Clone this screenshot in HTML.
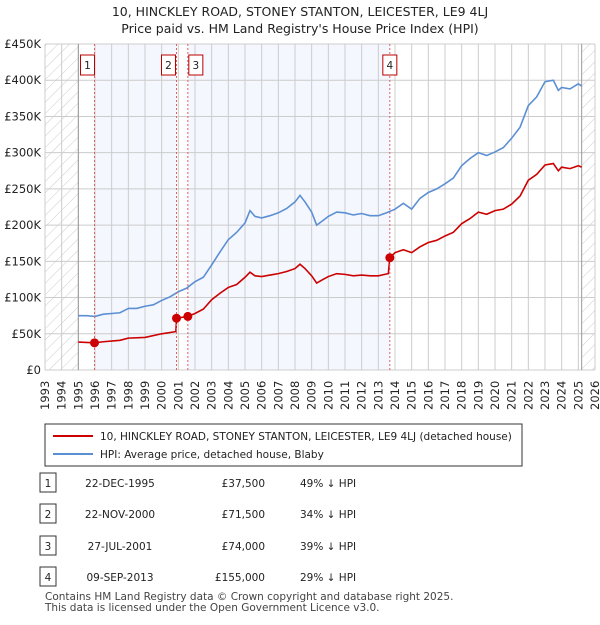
<!DOCTYPE html>
<html><head><meta charset="utf-8"><style>
body{margin:0;background:#fff;font-family:"Liberation Sans","DejaVu Sans",sans-serif;}
svg text{font-family:"DejaVu Sans","Liberation Sans",sans-serif;}
</style></head><body>
<svg width="600" height="620" xmlns="http://www.w3.org/2000/svg" id="chart">
<defs><pattern id="hatch" width="8" height="8" patternUnits="userSpaceOnUse" patternTransform="rotate(45)"><line x1="0" y1="0" x2="0" y2="8" stroke="#ccc" stroke-width="1"/></pattern></defs>
<text x="300" y="16" text-anchor="middle" font-size="12.5" fill="#222">10, HINCKLEY ROAD, STONEY STANTON, LEICESTER, LE9 4LJ</text>
<text x="300" y="33" text-anchor="middle" font-size="12.5" fill="#222">Price paid vs. HM Land Registry's House Price Index (HPI)</text>
<g id="bg"></g><g id="grid"></g><g id="lines"></g><g id="marks"></g><g id="axes"></g>
<rect x="45" y="424" width="477" height="42" fill="#fff" stroke="#333"/>
<line x1="53" y1="436" x2="93" y2="436" stroke="#cc0000" stroke-width="2"/>
<text x="100" y="440" font-size="10.5" fill="#222">10, HINCKLEY ROAD, STONEY STANTON, LEICESTER, LE9 4LJ (detached house)</text>
<line x1="53" y1="454" x2="93" y2="454" stroke="#5b8fd4" stroke-width="2"/>
<text x="100" y="458" font-size="10.5" fill="#222">HPI: Average price, detached house, Blaby</text>
<g id="table" font-size="10.5" fill="#222"></g>
<text x="45" y="600" font-size="10.5" fill="#444">Contains HM Land Registry data © Crown copyright and database right 2025.</text>
<text x="45" y="611" font-size="10.5" fill="#444">This data is licensed under the Open Government Licence v3.0.</text>
</svg>
<script>
const hpiYears=[1995,1995.5,1996,1996.5,1997,1997.5,1998,1998.5,1999,1999.5,2000,2000.5,2001,2001.5,2002,2002.5,2003,2003.5,2004,2004.5,2005,2005.3,2005.6,2006,2006.5,2007,2007.5,2008,2008.3,2008.6,2009,2009.3,2009.6,2010,2010.5,2011,2011.5,2012,2012.5,2013,2013.5,2014,2014.5,2015,2015.5,2016,2016.5,2017,2017.5,2018,2018.5,2019,2019.5,2020,2020.5,2021,2021.5,2022,2022.5,2023,2023.5,2023.8,2024,2024.5,2025,2025.2];
const hpiValues=[75,75,74,77,78,79,85,85,88,90,96,101,108,113,122,128,145,163,180,190,203,220,212,210,213,217,223,232,241,232,218,200,205,212,218,217,214,216,213,213,217,222,230,222,237,245,250,257,265,282,292,300,296,301,307,320,335,365,377,398,400,386,390,388,395,392];
const priceYears=[1995,1995.97,1996.5,1997.5,1998,1999,2000,2000.85,2000.9,2001.57,2002,2002.5,2003,2003.5,2004,2004.5,2005,2005.3,2005.6,2006,2006.5,2007,2007.5,2008,2008.3,2008.6,2009,2009.3,2009.6,2010,2010.5,2011,2011.5,2012,2012.5,2013,2013.6,2013.69,2014,2014.5,2015,2015.5,2016,2016.5,2017,2017.5,2018,2018.5,2019,2019.5,2020,2020.5,2021,2021.5,2022,2022.5,2023,2023.5,2023.8,2024,2024.5,2025,2025.2];
const priceValues=[38.5,37.5,39,41,44,45,50,53,71.5,74,78,84,97,106,114,118,128,135,130,129,131,133,136,140,146,140,130,120,124,129,133,132,130,131,130,130,133,155,162,166,162,170,176,179,185,190,202,209,218,215,220,222,229,240,262,270,283,285,275,280,278,282,280];
const saleLabels=["1","2","3","4"];
const saleDates=[1995.97,2000.89,2001.57,2013.69];
const salePrices=[37.5,71.5,74,155];
const saleDateText=["22-DEC-1995","22-NOV-2000","27-JUL-2001","09-SEP-2013"];
const salePriceText=["£37,500","£71,500","£74,000","£155,000"];
const saleHpiText=["49% ↓ HPI","34% ↓ HPI","39% ↓ HPI","29% ↓ HPI"];
const yTicks=[0,50,100,150,200,250,300,350,400,450];
const yTickLabels=["£0","£50K","£100K","£150K","£200K","£250K","£300K","£350K","£400K","£450K"];
const xStart=1993,xEnd=2026,dataStart=1995,dataEnd=2025.2;
const L=45,R=595,T=44,B=370;
const X=v=>L+(v-xStart)/(xEnd-xStart)*(R-L);
const Y=v=>B-v/450*(B-T);
const NS="http://www.w3.org/2000/svg";
function mk(tag,attrs,parent){const e=document.createElementNS(NS,tag);for(const k in attrs)e.setAttribute(k,attrs[k]);document.getElementById(parent).appendChild(e);return e;}
let e;
e=mk('rect',{x:X(saleDates[0]),y:T,width:X(saleDates[1])-X(saleDates[0]),height:B-T,fill:'#f4f7fe'},'bg');


e=mk('rect',{x:X(saleDates[2]),y:T,width:X(saleDates[3])-X(saleDates[2]),height:B-T,fill:'#f4f7fe'},'bg');


e=mk('rect',{x:L,y:T,width:X(dataStart)-L,height:B-T,fill:'url(#hatch)'},'bg');


e=mk('rect',{x:X(dataEnd),y:T,width:R-X(dataEnd),height:B-T,fill:'url(#hatch)'},'bg');


for(let yr=xStart;yr<=xEnd;yr++){
 e=mk('line',{x1:X(yr),x2:X(yr),y1:T,y2:B,stroke:'#ccc','stroke-width':1},'grid');
 
 
 e=mk('text',{x:0,y:0,transform:`translate(${X(yr)+4},${B+40}) rotate(-90)`,'font-size':11.5,fill:'#222'},'axes');
 e.textContent=yr;
 
 
}
yTicks.forEach((v,i)=>{
 e=mk('line',{x1:L,x2:R,y1:Y(v),y2:Y(v),stroke:'#ccc','stroke-width':1},'grid');
 
 
 e=mk('text',{x:L-4,y:Y(v)+4,'text-anchor':'end','font-size':11.5,fill:'#222'},'axes');
 e.textContent=yTickLabels[i];
 
 
});
e=mk('line',{x1:X(dataStart),x2:X(dataStart),y1:T,y2:B,stroke:'#999'},'grid');


e=mk('line',{x1:X(dataEnd),x2:X(dataEnd),y1:T,y2:B,stroke:'#999'},'grid');


e=mk('polyline',{points:hpiYears.map((y,i)=>X(y)+','+Y(hpiValues[i])).join(' '),fill:'none',stroke:'#5b8fd4','stroke-width':1.6},'lines');


e=mk('polyline',{points:priceYears.map((y,i)=>X(y)+','+Y(priceValues[i])).join(' '),fill:'none',stroke:'#cc0000','stroke-width':1.6},'lines');


saleDates.forEach((d,i)=>{
 e=mk('line',{x1:X(d),x2:X(d),y1:T,y2:B,stroke:'#e06060','stroke-dasharray':'2,2','stroke-width':1},'marks');
 
 
 e=mk('circle',{cx:X(d),cy:Y(salePrices[i]),r:4.5,fill:'#cc0000'},'marks');
 
 
 let bx=X(d)-(i==1?15:i==2?-1:7);
 if(i==0)bx=X(d)-14; if(i==3)bx=X(d)-7;
 e=mk('rect',{x:bx,y:55,width:14,height:20,fill:'#fff',stroke:'#b00'},'marks');
 
 
 e=mk('text',{x:bx+7,y:69,'text-anchor':'middle','font-size':10.5,fill:'#222'},'marks');
 e.textContent=saleLabels[i];
 
 
 const ry=[483,514,546,577][i];
 e=mk('rect',{x:40,y:ry-10,width:16,height:19,fill:'#fff',stroke:'#333'},'table');
 
 
 e=mk('text',{x:48,y:ry+4,'text-anchor':'middle'},'table');e.textContent=saleLabels[i];
 
 
 e=mk('text',{x:120,y:ry+4,'text-anchor':'middle'},'table');e.textContent=saleDateText[i];
 
 
 e=mk('text',{x:265,y:ry+4,'text-anchor':'end'},'table');e.textContent=salePriceText[i];
 
 
 e=mk('text',{x:300,y:ry+4},'table');e.textContent=saleHpiText[i];
 
 
});
</script>
</body></html>
